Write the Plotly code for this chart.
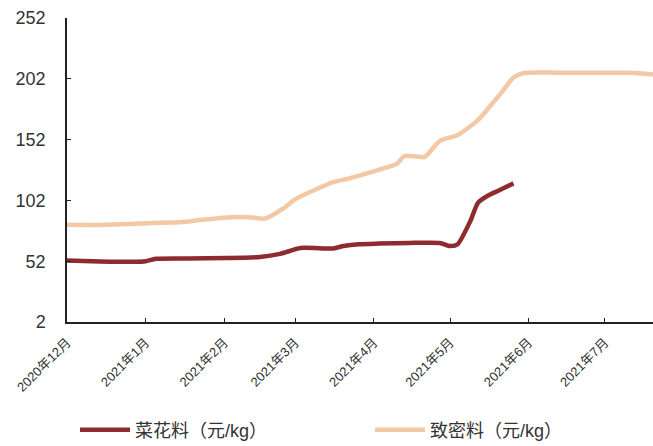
import plotly.graph_objects as go

red_dates = ["2020-12-01", "2020-12-14", "2020-12-27", "2021-01-01", "2021-01-05", "2021-01-18",
             "2021-02-02", "2021-02-15", "2021-02-23", "2021-03-03", "2021-03-16", "2021-03-20",
             "2021-03-26", "2021-04-03", "2021-04-15", "2021-04-27", "2021-05-01", "2021-05-04",
             "2021-05-09", "2021-05-12", "2021-05-16", "2021-05-20", "2021-05-26"]
red_vals = [52.5, 51.8, 51.5, 52.0, 54.0, 54.3, 54.6, 55.5, 58.0, 62.9, 62.5, 64.5,
            66.0, 66.5, 67.0, 67.0, 64.5, 66.0, 85.0, 100.0, 106.0, 110.0, 116.0]

tan_dates = ["2020-12-01", "2020-12-14", "2020-12-25", "2021-01-03", "2021-01-14", "2021-01-23",
             "2021-02-02", "2021-02-12", "2021-02-17", "2021-02-24", "2021-03-01", "2021-03-09",
             "2021-03-16", "2021-03-23", "2021-04-05", "2021-04-10", "2021-04-13", "2021-04-18",
             "2021-04-21", "2021-04-27", "2021-05-04", "2021-05-12", "2021-05-17", "2021-05-21",
             "2021-05-26", "2021-05-30", "2021-06-13", "2021-06-29", "2021-07-11", "2021-07-20"]
tan_vals = [82.0, 81.8, 82.5, 83.5, 84.0, 86.0, 88.0, 88.0, 87.0, 95.0, 103.0, 111.0,
            117.0, 120.5, 128.5, 132.0, 138.5, 138.0, 137.7, 151.0, 155.8, 168.0, 180.0, 190.0,
            203.0, 206.8, 207.0, 207.0, 207.0, 205.5]

tick_dates = ["2020-12-01", "2021-01-01", "2021-02-01", "2021-03-01", "2021-04-01",
              "2021-05-01", "2021-06-01", "2021-07-01"]
tick_text = ["2020年12月", "2021年1月", "2021年2月", "2021年3月", "2021年4月",
             "2021年5月", "2021年6月", "2021年7月"]
y_ticks = [2, 52, 102, 152, 202, 252]

fig = go.Figure()
fig.add_trace(go.Scatter(x=red_dates, y=red_vals, mode="lines", name="菜花料（元/kg）",
                         line=dict(color="#8E2B2E", width=4.5, shape="spline", smoothing=0.6)))
fig.add_trace(go.Scatter(x=tan_dates, y=tan_vals, mode="lines", name="致密料（元/kg）",
                         line=dict(color="#F3C8A5", width=4.5, shape="spline", smoothing=0.6)))

fig.update_layout(
    width=653, height=446,
    margin=dict(l=67, r=0, t=18, b=124, autoexpand=False),
    paper_bgcolor="white", plot_bgcolor="white",
    font=dict(family="Arial, Liberation Sans, Noto Sans CJK SC", color="#333333"),
    showlegend=True,
    legend=dict(orientation="h", x=8 / 586, y=(322 - 430) / 304, xanchor="left", yanchor="middle",
                xref="paper", yref="paper",
                font=dict(size=18, color="#333333"), itemwidth=50, entrywidth=230,
                entrywidthmode="pixels"),
    xaxis=dict(type="date", range=["2020-12-01", "2021-07-20"],
               tickvals=tick_dates, ticktext=tick_text, tickangle=-45,
               tickfont=dict(size=13, color="#333333"), automargin=False,
               ticklabelstandoff=6,
               showgrid=False, zeroline=False,
               showline=True, linecolor="#222222", linewidth=1.5,
               ticks="inside", ticklen=4, tickcolor="#222222"),
    yaxis=dict(range=[2, 252], tickvals=y_ticks, automargin=False,
               ticklabelstandoff=16,
               tickfont=dict(size=18, color="#333333"),
               showgrid=False, zeroline=False,
               showline=True, linecolor="#222222", linewidth=1.5,
               ticks="inside", ticklen=4, tickcolor="#222222"),
)

fig.write_html("out.html")
